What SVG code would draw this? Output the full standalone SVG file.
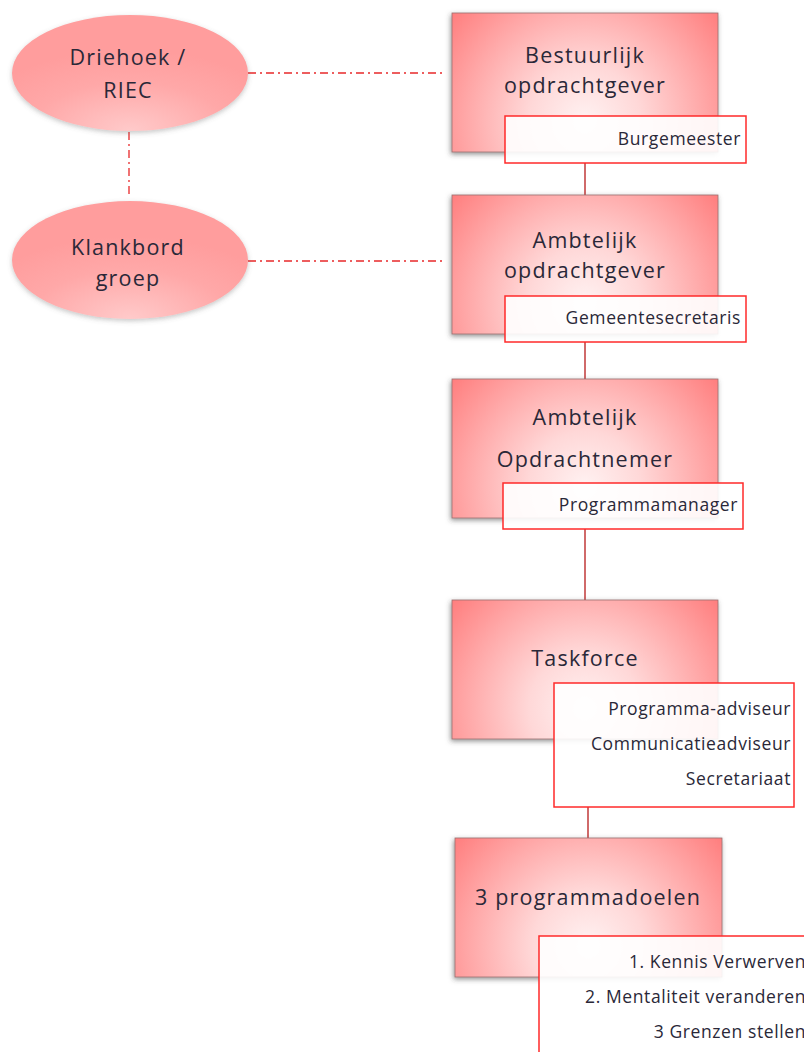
<svg xmlns="http://www.w3.org/2000/svg" width="804" height="1052" viewBox="0 0 804 1052">
<defs>
<radialGradient id="boxg" cx="0.5" cy="0.78" r="0.7" fx="0.5" fy="0.78" gradientTransform="translate(0.5 0.78) scale(1 1.91) translate(-0.5 -0.78)">
<stop offset="0" stop-color="#fff2f2"/>
<stop offset="0.3" stop-color="#ffd8d8"/>
<stop offset="0.65" stop-color="#ffa6a6"/>
<stop offset="1" stop-color="#ff7272"/>
</radialGradient>
<radialGradient id="ellg" cx="0.5" cy="1" r="0.7">
<stop offset="0" stop-color="#ffcaca"/>
<stop offset="0.6" stop-color="#ffa8a8"/>
<stop offset="1" stop-color="#ff9d9d"/>
</radialGradient>
<filter id="sh" x="-10%" y="-10%" width="120%" height="125%">
<feDropShadow dx="-1" dy="2" stdDeviation="2.5" flood-color="#404040" flood-opacity="0.55"/>
</filter>
<filter id="esh" x="-10%" y="-10%" width="120%" height="125%">
<feDropShadow dx="0" dy="2" stdDeviation="2.5" flood-color="#606060" flood-opacity="0.35"/>
</filter>
</defs>
<style>
.box{fill:url(#boxg);stroke:#9a7070;stroke-width:0.8;filter:url(#sh)}
.ell{fill:url(#ellg);filter:url(#esh)}
.lbl{fill:#ffffff;fill-opacity:0.9;stroke:#ff2a2a;stroke-width:1.5}
.big{font-family:"Open Sans","Noto Sans",sans-serif;font-size:21.5px;fill:#2a2838;text-anchor:middle;letter-spacing:1.2px}
.sm{font-family:"Open Sans","Noto Sans",sans-serif;font-size:17.5px;fill:#2a2838;text-anchor:end;letter-spacing:0.6px}
.dd{stroke:#e8282a;stroke-width:1.3;stroke-dasharray:8 4 2 4;fill:none}
.ln{stroke:#c03838;stroke-width:1.5;fill:none}
</style>
<rect width="804" height="1052" fill="#ffffff"/>
<g id="connectors">
<line class="dd" x1="248" y1="73" x2="442" y2="73"/>
<line class="dd" x1="248" y1="261" x2="442" y2="261"/>
<line class="dd" x1="129" y1="132" x2="129" y2="198"/>
<line class="ln" x1="585" y1="163" x2="585" y2="195"/>
<line class="ln" x1="585" y1="342" x2="585" y2="379"/>
<line class="ln" x1="585" y1="529" x2="585" y2="600"/>
<line class="ln" x1="588" y1="807" x2="588" y2="838"/>
</g>
<g id="driehoek">
<ellipse class="ell" cx="130" cy="73" rx="118" ry="58"/>
<text class="big" x="128" y="65">Driehoek /</text>
<text class="big" x="128" y="98">RIEC</text>
</g>
<g id="klankbord">
<ellipse class="ell" cx="130" cy="260" rx="118" ry="59"/>
<text class="big" x="128" y="255">Klankbord</text>
<text class="big" x="128" y="286">groep</text>
</g>
<g id="bestuurlijk">
<rect class="box" x="452" y="13" width="266" height="139"/>
<text class="big" x="585" y="63">Bestuurlijk</text>
<text class="big" x="585" y="93">opdrachtgever</text>
<rect class="lbl" x="505" y="116" width="241" height="47"/>
<text class="sm" x="741" y="145">Burgemeester</text>
</g>
<g id="ambtelijk-opdrachtgever">
<rect class="box" x="452" y="195" width="266" height="139"/>
<text class="big" x="585" y="248">Ambtelijk</text>
<text class="big" x="585" y="278">opdrachtgever</text>
<rect class="lbl" x="505" y="296" width="241" height="46"/>
<text class="sm" x="741" y="324">Gemeentesecretaris</text>
</g>
<g id="ambtelijk-opdrachtnemer">
<rect class="box" x="452" y="379" width="266" height="139"/>
<text class="big" x="585" y="425">Ambtelijk</text>
<text class="big" x="585" y="467">Opdrachtnemer</text>
<rect class="lbl" x="503" y="483" width="240" height="46"/>
<text class="sm" x="738" y="511">Programmamanager</text>
</g>
<g id="taskforce">
<rect class="box" x="452" y="600" width="266" height="139"/>
<text class="big" x="585" y="666">Taskforce</text>
<rect class="lbl" x="554" y="683" width="240" height="124"/>
<text class="sm" x="791" y="715">Programma-adviseur</text>
<text class="sm" x="791" y="750">Communicatieadviseur</text>
<text class="sm" x="791" y="785">Secretariaat</text>
</g>
<g id="programmadoelen">
<rect class="box" x="455" y="838" width="267" height="139"/>
<text class="big" x="588" y="905">3 programmadoelen</text>
<rect class="lbl" x="539" y="936" width="300" height="150"/>
<text class="sm" x="806" y="968">1. Kennis Verwerven</text>
<text class="sm" x="806" y="1003">2. Mentaliteit veranderen</text>
<text class="sm" x="806" y="1038">3 Grenzen stellen</text>
</g>
</svg>
